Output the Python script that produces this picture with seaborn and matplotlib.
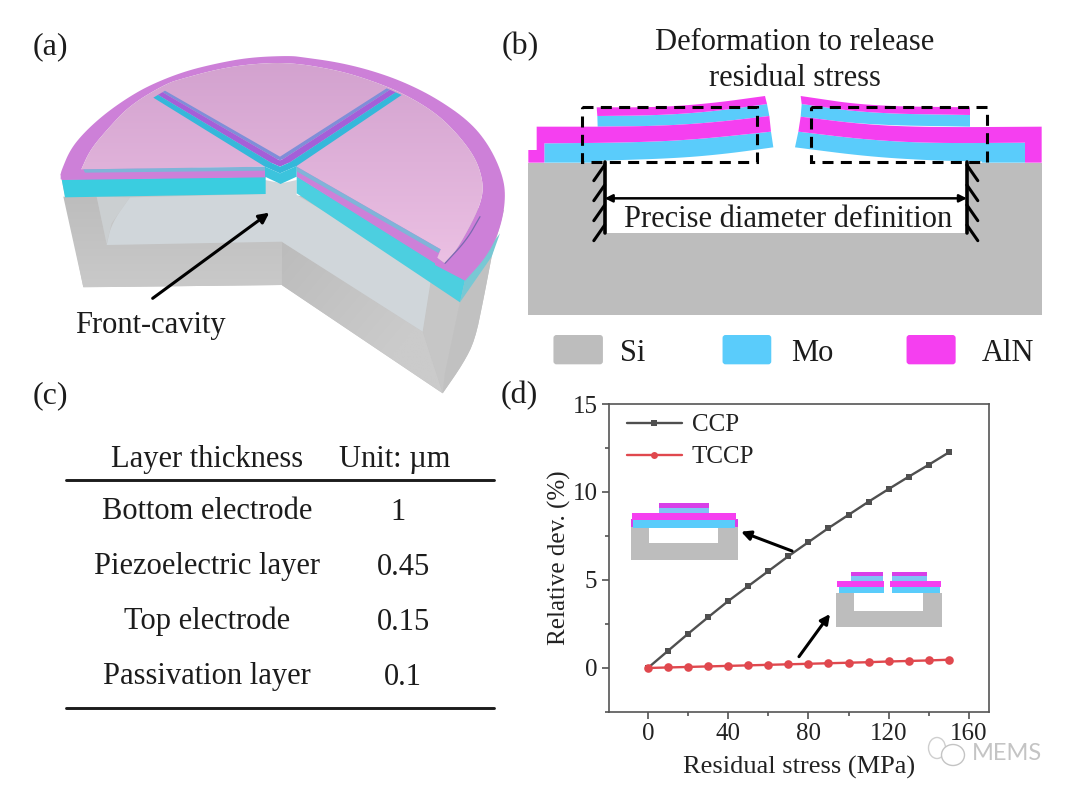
import numpy as np
import pandas as pd
import seaborn as sns
import matplotlib
matplotlib.use("Agg")
import matplotlib.pyplot as plt
from matplotlib.patches import Polygon, Ellipse, FancyBboxPatch
from matplotlib.path import Path
from matplotlib.ticker import MultipleLocator

# panel (d) values
stress = [0, 10, 20, 30, 40, 50, 60, 70, 80, 90, 100, 110, 120, 130, 140, 150]
ccp = [0, 0.97, 1.94, 2.88, 3.8, 4.65, 5.5, 6.35, 7.15, 7.95, 8.7, 9.45, 10.17, 10.87, 11.55, 12.25]
tccp = [0, 0.03, 0.06, 0.09, 0.12, 0.15, 0.18, 0.21, 0.24, 0.27, 0.3, 0.33, 0.37, 0.4, 0.43, 0.47]

# panel (c) table
table_head = ["Layer thickness", "Unit: µm"]
table_layers = ["Bottom electrode", "Piezoelectric layer", "Top electrode", "Passivation layer"]
table_values = ["1", "0.45", "0.15", "0.1"]

legend_names = ["Si", "Mo", "AlN"]

GREY = "#bdbdbd"
BLUE = "#5accfb"
PINK = "#f53ff0"
BLUE_D = "#7fc4f5"
PINK_D = "#d83fe8"
TXT = 22

sns.set_theme(style="ticks")
plt.rcParams["font.family"] = ["Liberation Serif", "DejaVu Serif"]

fig = plt.figure(figsize=(10.8, 7.97), dpi=100, facecolor="white")
W, H = 1080, 797

# ---- panel d, real axes
ax = fig.add_axes([608.5 / W, 1 - 712 / H, (989 - 608.5) / W, (712 - 404) / H])
df = pd.DataFrame({
    "stress": stress * 2,
    "dev": ccp + tccp,
    "kind": ["CCP"] * len(ccp) + ["TCCP"] * len(tccp),
})
sns.lineplot(data=df, x="stress", y="dev", hue="kind", style="kind",
             palette={"CCP": "#4f4f4f", "TCCP": "#e0484e"},
             markers={"CCP": "s", "TCCP": "o"}, dashes=False,
             markersize=5, linewidth=1.7, markeredgewidth=0, ax=ax)
ax.lines[0].set_markersize(5)
ax.lines[1].set_markersize(6.2)
ax.set_xlim(-19.6, 170)
ax.set_ylim(-2.5, 15)
ax.xaxis.set_major_locator(MultipleLocator(40))
ax.xaxis.set_minor_locator(MultipleLocator(20))
ax.yaxis.set_major_locator(MultipleLocator(5))
ax.yaxis.set_minor_locator(MultipleLocator(2.5))
ax.tick_params(which="major", direction="out", length=5, width=1.1, color="#444444",
               labelsize=18, labelcolor="#222222", pad=3)
ax.tick_params(which="minor", direction="out", length=3, width=1.1, color="#444444")
for s in ax.spines.values():
    s.set_linewidth(1.2)
    s.set_color("#555555")
ax.set_xlabel("Residual stress (MPa)", fontsize=19, color="#222222", labelpad=8)
ax.set_ylabel("Relative dev. (%)", fontsize=18, color="#222222", labelpad=1)
ax.legend(title=None, loc="upper left", bbox_to_anchor=(0.002, 1.025), frameon=False,
          fontsize=18, handlelength=2.2, labelspacing=0.38, handletextpad=0.4,
          borderpad=0.2, labelcolor="#222222")

# ---- overlay in pixel coordinates for the drawings and text
ov = fig.add_axes([0, 0, 1, 1], facecolor="none")
ov.set_xlim(0, W)
ov.set_ylim(H, 0)
ov.axis("off")


def chaikin(pts, rounds=3):
    p = np.array(pts, dtype=float)
    for _ in range(rounds):
        q = 0.75 * p[:-1] + 0.25 * p[1:]
        r = 0.25 * p[:-1] + 0.75 * p[1:]
        mid = np.empty((2 * len(q), 2))
        mid[0::2] = q
        mid[1::2] = r
        p = np.vstack([p[:1], mid, p[-1:]])
    return p


def to_a(pts):
    return np.array(pts, dtype=float) / 3 + [20, 20]


def to_b(pts):
    return np.array(pts, dtype=float) * [1 / 2.75, 1 / 3] + [500, 20]


def to_bl(pts):
    return np.array(pts, dtype=float) / 3 + [525, 90]


def to_br(pts):
    return np.array(pts, dtype=float) / 3 + [785, 90]


def to_d(pts):
    return np.array(pts, dtype=float) * [1 / 2.9, 1 / 3] + [530, 380]


def fill(xy, color, z=1, **kw):
    ov.add_patch(Polygon(xy, closed=True, facecolor=color, edgecolor="none", zorder=z, **kw))


def grad_fill(xy, c1, c2, z, angle=0):
    # linear gradient clipped to a polygon
    xy = np.array(xy)
    x0, y0 = xy.min(axis=0)
    x1, y1 = xy.max(axis=0)
    yy, xx = np.mgrid[0:1:80j, 0:1:80j]
    t = np.clip(yy * np.cos(angle) + xx * np.sin(angle), 0, 1)
    a = np.array(matplotlib.colors.to_rgb(c1))
    b = np.array(matplotlib.colors.to_rgb(c2))
    img = a[None, None, :] * (1 - t[..., None]) + b[None, None, :] * t[..., None]
    im = ov.imshow(img, extent=(x0, x1, y1, y0), aspect="auto", zorder=z, interpolation="bilinear")
    im.set_clip_path(Path(np.vstack([xy, xy[:1]])), transform=ov.transData)
    ov.set_xlim(0, W)
    ov.set_ylim(H, 0)


def label(x, y, s, size=TXT, ha="center", va="center", z=10, color="#1c1c1c"):
    ov.text(x, y + 2.5, s, fontsize=size, ha=ha, va=va, color=color, zorder=z)


def arrow(p0, p1, lw=2.2, style="-|>", ms=16, z=9):
    ov.annotate("", xy=p1, xytext=p0, zorder=z,
                arrowprops=dict(arrowstyle=style, color="black", lw=lw, mutation_scale=ms,
                                shrinkA=0, shrinkB=0))


# ---- panel a
outer_top = chaikin([(122, 462), (125, 450), (150, 390), (190, 340), (250, 285), (320, 235), (390, 195),
                     (490, 155), (590, 130), (690, 112), (810, 107), (850, 112), (950, 126), (1050, 150),
                     (1150, 185), (1250, 235), (1350, 305), (1410, 380), (1450, 470), (1457, 540),
                     (1440, 630), (1400, 710), (1335, 782)])
inner_top = chaikin([(183, 450), (210, 390), (260, 330), (330, 255), (440, 190), (490, 175), (590, 148),
                     (690, 132), (810, 127), (950, 150), (1050, 180), (1150, 220), (1250, 280), (1320, 350),
                     (1370, 420), (1390, 490), (1385, 540), (1360, 600), (1310, 690), (1275, 730)])

# silicon body
body_right = chaikin([(1268, 1120), (1330, 1030), (1365, 960), (1390, 840), (1415, 710)], rounds=2)
fill(to_a(np.vstack([[(125, 478), (190, 802), (785, 795), (1268, 1120)], body_right, [(1452, 570)]])),
     "#c5c5c5", 1)
fill(to_a([(1235, 765), (1208, 935), (1268, 1120), (1275, 1060), (1320, 847)]), "#c6c6c6", 1.2)
fill(to_a(np.vstack([[(1268, 1120), (1275, 1060), (1320, 847), (1415, 710)], body_right[::-1]])), "#c1c1c1", 1.3)
grad_fill(to_a([(785, 665), (1208, 935), (1268, 1120), (785, 795)]), "#bcbcbc", "#cbcbcb", 1.4, angle=0.9)
grad_fill(to_a([(130, 530), (190, 802), (785, 795), (785, 665), (260, 675), (230, 530)]),
          "#bdbdbd", "#c9c9c9", 1.4)
# cavity wall
cavity = np.vstack([chaikin([(260, 675), (275, 610), (330, 532)]),
                    [(735, 522), (735, 480), (785, 490), (830, 480), (830, 525), (1235, 765), (1208, 935),
                     (785, 665)]])
fill(to_a(cavity), "#d0d6da", 1.6)
fill(to_a([(230, 530), (330, 532), (275, 610), (260, 672)]), "#cbcfd1", 1.5)

# cyan layer side faces
fill(to_a([(125, 478), (737, 470), (737, 522), (135, 532)]), "#3acde0", 2)
fill(to_a([(830, 468), (1245, 728), (1335, 780), (1320, 847), (830, 520)]), "#4ccfe0", 2)
fill(to_a([(1335, 780), (1440, 640), (1415, 710), (1320, 847)]), "#78c8d4", 1.9)
# rim of the disc
fill(to_a(np.vstack([outer_top, [(1245, 735), (1245, 708)], inner_top[::-1], [(183, 450), (122, 478)]])),
     "#cd80d8", 3)
# inner top surface
top_poly = np.vstack([inner_top, [(1245, 708), (1260, 690), (830, 442), (780, 412), (735, 440), (183, 450)]])
grad_fill(to_a(top_poly), "#d3a2cf", "#ebc0e3", 3.2)
# cut faces of top layers
fill(to_a([(183, 448), (737, 442), (737, 472), (125, 480), (122, 462)]), "#cd80d8", 3.4)
fill(to_a([(190, 448), (737, 440), (737, 452), (195, 458)]), "#7fb4d8", 3.5)
fill(to_a([(830, 440), (1262, 688), (1245, 730), (830, 470)]), "#cd80d8", 3.4)
fill(to_a([(830, 440), (1262, 688), (1255, 699), (830, 454)]), "#80b4d8", 3.5)
ov.plot(*to_a(chaikin([(1380, 590), (1340, 660), (1275, 730)])).T, color="#7a6ab0", lw=0.9, zorder=4.4)


def slot_band(f0, f1):
    # one colored band of the V shaped slot, f runs across the slot width
    lt, lb = np.array([(435, 212), (780, 410)], float), np.array([(400, 233), (735, 440)], float)
    rt, rb = np.array([(1100, 205), (780, 410)], float), np.array([(1145, 225), (830, 438)], float)
    def side(top, bot, f):
        return top + f * (bot - top)
    l0, l1 = side(lt, lb, f0), side(lt, lb, f1)
    r0, r1 = side(rt, rb, f0), side(rt, rb, f1)
    return [l0[0], l0[1], (780, 410 + 50 * f0), r0[1], r0[0], r1[0], r1[1], (780, 410 + 50 * f1), l1[1], l1[0]]


fill(to_a(slot_band(0, 0.22)), "#7f8fd8", 4)
fill(to_a(slot_band(0.22, 0.6)), "#a55fd8", 4.1)
fill(to_a(slot_band(0.6, 1.0)), "#35b8da", 4.2)
fill(to_a([(735, 440), (780, 460), (830, 438), (830, 470), (782, 492), (735, 470)]), "#3cc4dd", 4.3)
arrow(to_a([(398, 835)])[0], to_a([(748, 578)])[0], lw=2.2, ms=15)
label(150, 323, "Front-cavity")

# ---- panel b
fill(to_b([(78, 428), (1490, 428), (1490, 885), (78, 885)]), GREY, 1)
fill(to_b([(288, 428), (1284, 428), (1284, 640), (288, 640)]), "white", 1.1)

# left cantilever, edges of each layer from bottom to top
e0 = chaikin([(230, 212), (450, 205), (600, 192), (745, 172)])
e1 = chaikin([(58, 160), (300, 158), (500, 150), (738, 125)])
e2 = chaikin([(218, 110), (400, 108), (560, 98), (733, 78)])
e3 = chaikin([(217, 78), (400, 76), (560, 65), (726, 42)])
e4 = chaikin([(215, 52), (400, 52), (560, 40), (720, 18)])
fill(to_bl(np.vstack([[(58, 218), (230, 218)], e0, e1[::-1]])), BLUE, 2)
fill(to_bl(np.vstack([[(10, 218), (10, 180), (35, 180), (35, 110)], e2, e1[::-1], [(58, 218)]])), PINK, 2.1)
fill(to_bl(np.vstack([e3, e2[::-1]])), BLUE, 2)
fill(to_bl(np.vstack([e4, e3[::-1]])), PINK, 2.1)

# right cantilever
e0 = chaikin([(30, 172), (250, 200), (450, 212), (590, 214)])
e1 = chaikin([(40, 125), (250, 150), (450, 160), (720, 158)])
e2 = chaikin([(47, 80), (250, 105), (450, 112), (770, 110)])
e2b = chaikin([(47, 80), (250, 105), (555, 110)])
e3 = chaikin([(50, 42), (250, 70), (555, 75)])
e4 = chaikin([(47, 18), (250, 48), (555, 52)])
fill(to_br(np.vstack([e1, [(720, 218), (590, 218)], e0[::-1]])), BLUE, 2)
fill(to_br(np.vstack([e2, [(770, 218), (720, 218)], e1[::-1]])), PINK, 2.1)
fill(to_br(np.vstack([e3, e2b[::-1]])), BLUE, 2)
fill(to_br(np.vstack([e4, e3[::-1]])), PINK, 2.1)

for box in ([(225, 260), (708, 260), (708, 425), (225, 425)], [(855, 260), (1340, 260), (1340, 425), (855, 425)]):
    ov.add_patch(Polygon(to_b(box), closed=True, fill=False, edgecolor="black", lw=2.2,
                         linestyle=(0, (3.6, 2.4)), zorder=5))

# clamped walls with hatch ticks
ov.plot(*to_b([(288, 425), (288, 640)]).T, color="black", lw=2.6, zorder=6)
ov.plot(*to_b([(1284, 425), (1284, 640)]).T, color="black", lw=2.6, zorder=6)
for yy in [430, 490, 550, 610]:
    ov.plot(*to_b([(288, yy + 5), (258, yy + 52)]).T, color="black", lw=2.2, zorder=6)
    ov.plot(*to_b([(1284, yy + 5), (1314, yy + 52)]).T, color="black", lw=2.2, zorder=6)
arrow(to_b([(288, 535)])[0], to_b([(1284, 535)])[0], lw=1.8, style="<|-|>", ms=11)
label(*to_b([(793, 592)])[0], "Precise diameter definition")
label(795, 40, "Deformation to release")
label(795, 76, "residual stress")

# legend swatches under b
for (x0, x1), name, col, tx in zip([(147, 283), (612, 746), (1118, 1253)], legend_names, [GREY, BLUE, PINK],
                                   [(366, 992), (860, 992), (1397, 992)]):
    p = to_b([(x0, 945), (x1, 1033)])
    ov.add_patch(FancyBboxPatch((p[0][0] + 3, p[0][1] + 3), p[1][0] - p[0][0] - 6, p[1][1] - p[0][1] - 6,
                                boxstyle="round,pad=3,rounding_size=3", facecolor=col, edgecolor="none", zorder=2))
    label(*to_b([tx])[0], name)

# ---- panel c
label(207, 457, table_head[0])
label(395, 457, table_head[1])
ov.plot([66, 494], [480, 480], color="#1c1c1c", lw=2.1, zorder=5)
ov.plot([66, 494], [708, 708], color="#1c1c1c", lw=2.1, zorder=5)
row_y = [509, 564, 619, 674]
val_x = [398, 404, 404, 403]
for y, vx, name, val in zip(row_y, val_x, table_layers, table_values):
    label(207, y, name)
    label(vx, y + 1, val)

# ---- insets of d
fill(to_d([(292, 435), (602, 435), (602, 540), (292, 540)]), GREY, 3)
fill(to_d([(346, 440), (546, 440), (546, 488), (346, 488)]), "white", 3.1)
fill(to_d([(292, 418), (602, 418), (602, 440), (292, 440)]), PINK_D, 3.2)
fill(to_d([(299, 420), (595, 420), (595, 443), (299, 443)]), BLUE, 3.3)
fill(to_d([(295, 400), (598, 400), (598, 420), (295, 420)]), PINK, 3.3)
fill(to_d([(375, 385), (518, 385), (518, 400), (375, 400)]), BLUE_D, 3.3)
fill(to_d([(373, 370), (518, 370), (518, 385), (373, 385)]), PINK_D, 3.3)

fill(to_d([(888, 640), (1195, 640), (1195, 742), (888, 742)]), GREY, 3)
fill(to_d([(940, 640), (1140, 640), (1140, 692), (940, 692)]), "white", 3.1)
for x0, x1, tx0, tx1 in [(890, 1028, 932, 1024), (1045, 1192, 1050, 1152)]:
    fill(to_d([(x0 + 5, 620), (x1 - 2, 620), (x1 - 2, 640), (x0 + 5, 640)]), BLUE, 3.3)
    fill(to_d([(x0, 603), (x1, 603), (x1, 620), (x0, 620)]), PINK, 3.3)
    fill(to_d([(tx0, 588), (tx1, 588), (tx1, 603), (tx0, 603)]), BLUE_D, 3.3)
    fill(to_d([(tx0, 575), (tx1, 575), (tx1, 588), (tx0, 588)]), PINK_D, 3.3)
arrow(to_d([(760, 513)])[0], to_d([(612, 455)])[0], lw=2.2, ms=14)
arrow(to_d([(780, 830)])[0], to_d([(870, 702)])[0], lw=2.2, ms=14)

# panel letters
label(50, 44, "(a)", size=23)
label(520, 44, "(b)", size=23)
label(50, 393, "(c)", size=23)
label(519, 393, "(d)", size=23)

# watermark
ov.add_patch(Ellipse((937, 748), 17, 21, fill=False, edgecolor="#cfcfcf", lw=1.0, zorder=8))
ov.add_patch(Ellipse((953, 755), 23, 21, facecolor="white", edgecolor="#c4c4c4", lw=1.0, zorder=8.1))
ov.text(1007, 753, "MEMS", fontsize=17, color="#c4c4c4", ha="center", va="center",
        family=["Lato"], zorder=12)

fig.savefig("out.png", dpi=100)
